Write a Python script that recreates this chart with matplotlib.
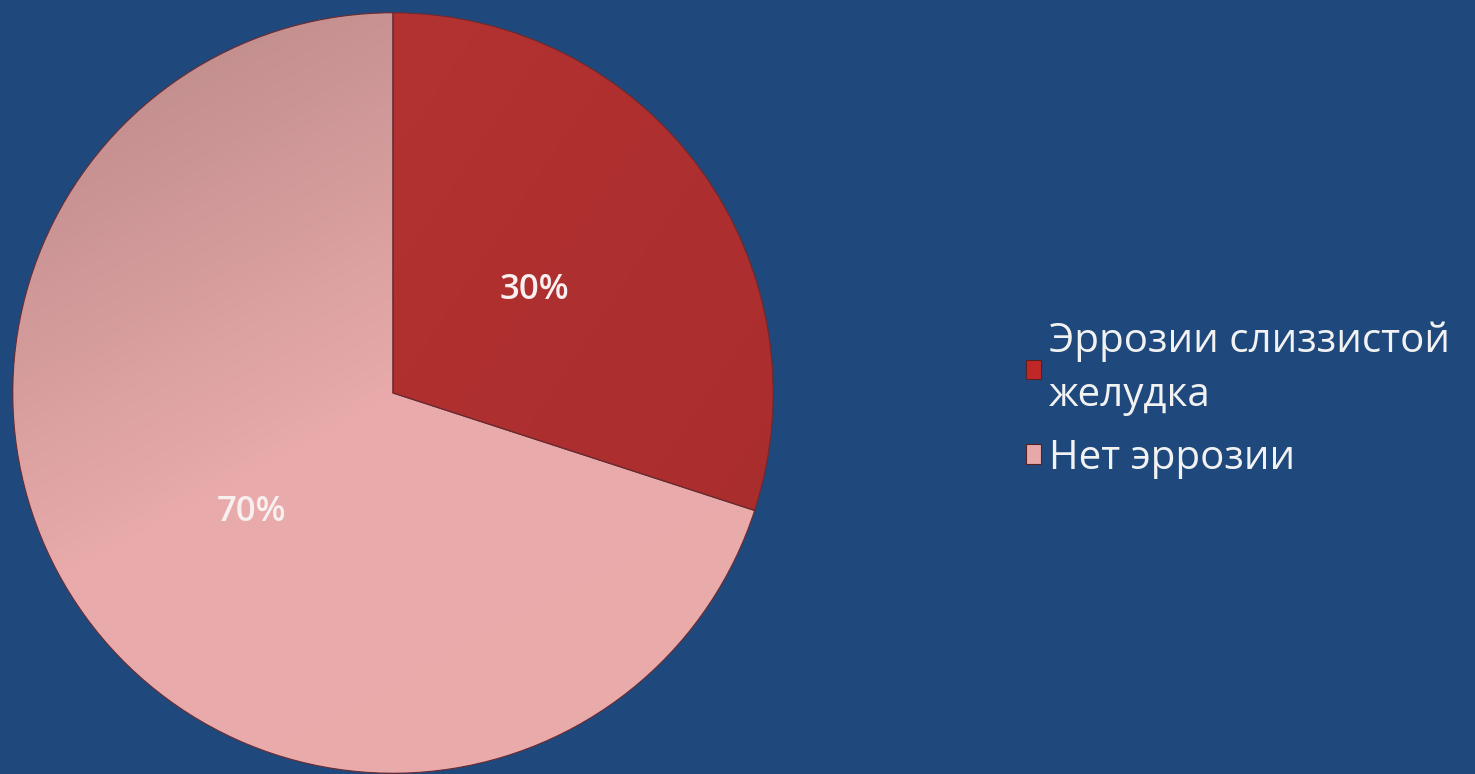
import numpy as np
import matplotlib
matplotlib.use("Agg")
import matplotlib.pyplot as plt
from matplotlib.patches import Patch
from matplotlib.colors import LinearSegmentedColormap

# Data
categories = ["Эррозии слиззистой\nжелудка", "Нет эррозии"]
values = [30, 70]
pct_labels = ["30%", "70%"]

BG = "#1F497D"
colors = ["#B03030", "#E6A8A8"]

fig = plt.figure(figsize=(14.75, 7.74), dpi=100, facecolor=BG)
W, H = 1475, 774
cx, cy, r = 393, 393, 381
ax = fig.add_axes([(cx - r) / W, (H - cy - r) / H, 2 * r / W, 2 * r / H])
ax.set_facecolor(BG)
ax.axis("off")

wedges, _ = ax.pie(values, colors=colors, startangle=90, counterclock=False,
                   radius=1.0, wedgeprops=dict(edgecolor="#6A2A30", linewidth=0.8))
ax.set_xlim(-1.002, 1.002)
ax.set_ylim(-1.002, 1.002)
ax.set_aspect("equal")

# Gradient shading clipped to each wedge
yy, xx = np.mgrid[1:-1:300j, -1:1:300j]
grad_specs = [
    (["#B83434", "#A82C2C"], (xx * 0.6 - yy * 0.4)),
    (["#B88686", "#E8AAAA", "#EAAAAA"], (xx * 0.35 - yy * 0.65)),
]
for w, (cols, field) in zip(wedges, grad_specs):
    f = (field - field.min()) / (field.max() - field.min())
    cmap = LinearSegmentedColormap.from_list("g", cols)
    im = ax.imshow(f, cmap=cmap, extent=(-1, 1, -1, 1), origin="upper",
                   interpolation="bilinear", zorder=w.get_zorder() + 0.1)
    im.set_clip_path(w)
    w.set_zorder(w.get_zorder() + 0.2)
    w.set_facecolor("none")

# Percentage labels
pct_dists = [0.46, 0.485]
angle_offsets = [0.0, 4.0]
theta = 90.0
for v, lab, d, off in zip(values, pct_labels, pct_dists, angle_offsets):
    span = v / sum(values) * 360
    mid = np.deg2rad(theta - span / 2 + off)
    theta -= span
    ax.text(d * np.cos(mid), d * np.sin(mid), lab,
            ha="center", va="center", color="#F8F0F0", fontsize=25,
            family="Open Sans", fontweight="semibold", zorder=10)

# Legend
handles = [Patch(facecolor=c, edgecolor="#5A2020", linewidth=0.8) for c in ["#C02828", "#E6A8A8"]]
leg = fig.legend(handles, categories, loc="center left",
                 bbox_to_anchor=(1026 / W, 1 - 400 / H), frameon=False,
                 prop=dict(family="Open Sans", size=29),
                 labelcolor="#F2F2F2", handlelength=0.38, handleheight=0.38,
                 handletextpad=0.18, labelspacing=0.55, borderaxespad=0, borderpad=0)
for t in leg.get_texts():
    t.set_linespacing(1.45)

fig.savefig("out.png", dpi=100, facecolor=BG)
